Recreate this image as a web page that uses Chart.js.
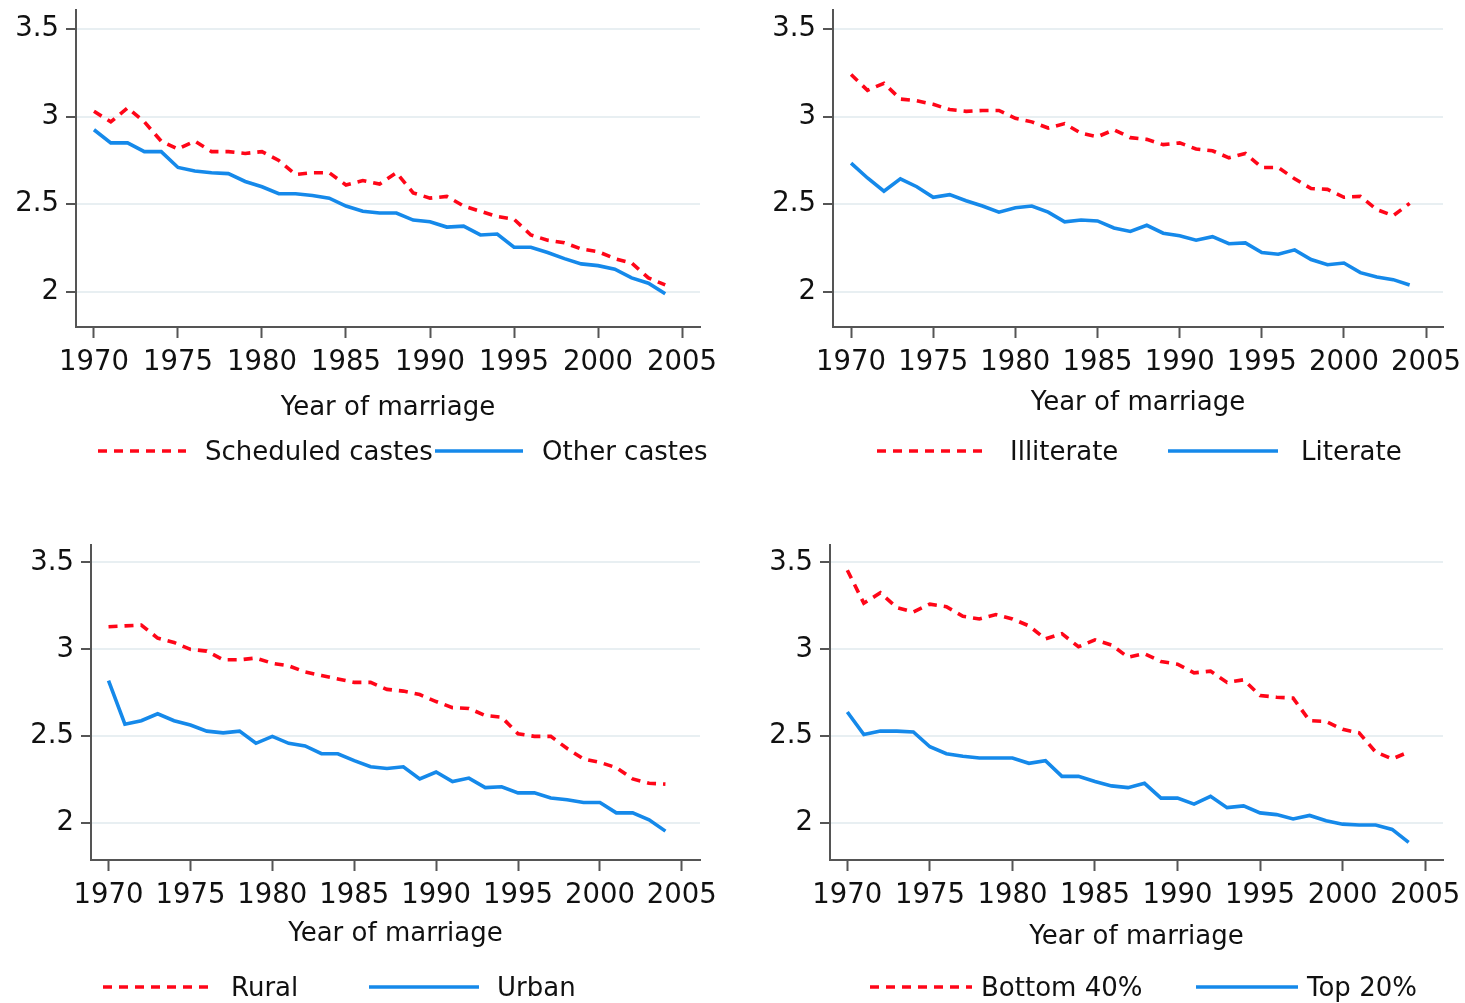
<!DOCTYPE html>
<html>
<head>
<meta charset="utf-8">
<script src="https://cdn.jsdelivr.net/npm/chart.js@4.4.1/dist/chart.umd.min.js"></script>
<style>
  body { margin: 0; background: #fff; }
  .panel { position: absolute; left: 0; top: 0; width: 1465px; height: 1003px; }
</style>
</head>
<body>
<div class="panel"><canvas id="chartCaste"></canvas></div>
<div class="panel"><canvas id="chartLiteracy"></canvas></div>
<div class="panel"><canvas id="chartLocation"></canvas></div>
<div class="panel"><canvas id="chartWealth"></canvas></div>
<script>
const years = [1970, 1971, 1972, 1973, 1974, 1975, 1976, 1977, 1978, 1979,
  1980, 1981, 1982, 1983, 1984, 1985, 1986, 1987, 1988, 1989,
  1990, 1991, 1992, 1993, 1994, 1995, 1996, 1997, 1998, 1999,
  2000, 2001, 2002, 2003, 2004]
const xTicks = [1970, 1975, 1980, 1985, 1990, 1995, 2000, 2005]
const yTicks = [2, 2.5, 3, 3.5]
const xTitle = 'Year of marriage'

const scheduledCastes = [3.03, 2.97, 3.05, 2.97, 2.86, 2.815, 2.86, 2.8, 2.8, 2.79,
  2.8, 2.75, 2.67, 2.68, 2.68, 2.61, 2.635, 2.615, 2.68, 2.565,
  2.535, 2.545, 2.49, 2.46, 2.43, 2.415, 2.325, 2.295, 2.28, 2.245,
  2.23, 2.19, 2.165, 2.08, 2.04]
const otherCastes = [2.925, 2.85, 2.85, 2.8, 2.8, 2.71, 2.69, 2.68, 2.675, 2.63,
  2.6, 2.56, 2.56, 2.55, 2.535, 2.49, 2.46, 2.45, 2.45, 2.41,
  2.4, 2.37, 2.375, 2.325, 2.33, 2.255, 2.255, 2.225, 2.19, 2.16,
  2.15, 2.13, 2.08, 2.05, 1.99]

const illiterate = [3.24, 3.15, 3.19, 3.1, 3.09, 3.07, 3.04, 3.03, 3.035, 3.035,
  2.99, 2.97, 2.935, 2.96, 2.905, 2.885, 2.925, 2.88, 2.87, 2.84,
  2.85, 2.815, 2.805, 2.765, 2.79, 2.71, 2.71, 2.645, 2.59, 2.585,
  2.54, 2.545, 2.47, 2.435, 2.505]
const literate = [2.735, 2.65, 2.575, 2.645, 2.6, 2.54, 2.555, 2.52, 2.49, 2.455,
  2.48, 2.49, 2.455, 2.4, 2.41, 2.405, 2.365, 2.345, 2.38, 2.335,
  2.32, 2.295, 2.315, 2.275, 2.28, 2.225, 2.215, 2.24, 2.185, 2.155,
  2.165, 2.11, 2.085, 2.07, 2.04]

const rural = [3.13, 3.135, 3.14, 3.065, 3.04, 3.0, 2.99, 2.94, 2.94, 2.95,
  2.92, 2.905, 2.87, 2.85, 2.83, 2.81, 2.81, 2.77, 2.76, 2.74,
  2.7, 2.665, 2.66, 2.62, 2.61, 2.515, 2.5, 2.5, 2.43, 2.37,
  2.35, 2.32, 2.255, 2.23, 2.225]
const urban = [2.82, 2.57, 2.59, 2.63, 2.59, 2.565, 2.53, 2.52, 2.53, 2.46,
  2.5, 2.46, 2.445, 2.4, 2.4, 2.36, 2.325, 2.315, 2.325, 2.255,
  2.295, 2.24, 2.26, 2.205, 2.21, 2.175, 2.175, 2.145, 2.135, 2.12,
  2.12, 2.06, 2.06, 2.02, 1.955]

const bottom40 = [3.455, 3.265, 3.325, 3.24, 3.215, 3.26, 3.245, 3.19, 3.175, 3.2,
  3.175, 3.135, 3.06, 3.09, 3.015, 3.055, 3.025, 2.955, 2.975, 2.93,
  2.915, 2.865, 2.875, 2.81, 2.825, 2.735, 2.725, 2.72, 2.59, 2.585,
  2.54, 2.52, 2.41, 2.37, 2.41]
const top20 = [2.64, 2.51, 2.53, 2.53, 2.525, 2.44, 2.4, 2.385, 2.375, 2.375,
  2.375, 2.345, 2.36, 2.27, 2.27, 2.24, 2.215, 2.205, 2.23, 2.145,
  2.145, 2.11, 2.155, 2.09, 2.1, 2.06, 2.05, 2.025, 2.045, 2.015,
  1.995, 1.99, 1.99, 1.965, 1.89]

const RED = '#ff0618'
const BLUE = '#1589ea'
const AXIS = '#555'
const GRID = '#e8eff2'
const FONT = '"DejaVu Sans", sans-serif'
const PAGE_W = 1465
const PAGE_H = 1003
const Y_AXIS_W = 70
const LINE_W = 3.6

// draws the two-column legend the way Stata lays it out
const stataLegend = {
  id: 'stataLegend',
  afterDraw(chart, args, opts) {
    const ctx = chart.ctx
    ctx.save()
    ctx.font = `26px ${FONT}`
    ctx.textBaseline = 'middle'
    chart.data.datasets.forEach((ds, i) => {
      const x = opts.left + i * opts.colWidth
      ctx.strokeStyle = ds.borderColor
      ctx.lineWidth = ds.borderWidth
      ctx.setLineDash(ds.borderDash || [])
      ctx.beginPath()
      ctx.moveTo(x, opts.y)
      ctx.lineTo(x + opts.sample, opts.y)
      ctx.stroke()
      ctx.setLineDash([])
      ctx.fillStyle = '#111'
      ctx.fillText(ds.label, x + opts.sample + opts.gap, opts.y + 2)
    })
    ctx.restore()
  },
}

// box = chart area in page pixels, xr/yr = axis ranges matching that box
function makePanel(id, p) {
  const titleBottom = p.titleY + 0.6 * 26
  return new Chart(document.getElementById(id), {
    type: 'line',
    data: {
      labels: years,
      datasets: [
        {
          label: p.names[0],
          data: p.series[0],
          borderColor: RED,
          borderWidth: LINE_W,
          borderDash: [9, 7],
          pointRadius: 0,
          tension: 0,
        },
        {
          label: p.names[1],
          data: p.series[1],
          borderColor: BLUE,
          borderWidth: LINE_W,
          pointRadius: 0,
          tension: 0,
        },
      ],
    },
    options: {
      responsive: true,
      maintainAspectRatio: false,
      animation: false,
      layout: {
        padding: {
          left: p.box.left - Y_AXIS_W,
          right: PAGE_W - p.box.right,
          top: p.box.top,
          bottom: PAGE_H - titleBottom,
        },
      },
      plugins: {
        legend: { display: false },
        tooltip: { enabled: false },
        stataLegend: p.legend,
      },
      scales: {
        x: {
          type: 'linear',
          min: p.xr[0],
          max: p.xr[1],
          afterBuildTicks: (s) => { s.ticks = xTicks.map((v) => ({ value: v })) },
          afterFit: (s) => {
            s.height = titleBottom - p.box.bottom
            s.paddingLeft = 0
            s.paddingRight = 0
          },
          ticks: {
            callback: (v) => String(v),
            font: { family: FONT, size: 27.5 },
            color: '#111',
            padding: 8,
            maxRotation: 0,
            autoSkip: false,
          },
          grid: {
            drawOnChartArea: false,
            drawTicks: true,
            tickLength: 11,
            tickColor: AXIS,
            tickWidth: 2,
          },
          border: { color: AXIS, width: 2 },
          title: {
            display: true,
            text: xTitle,
            font: { family: FONT, size: 26, lineHeight: 1.2 },
            color: '#111',
            padding: 0,
          },
        },
        y: {
          min: p.yr[0],
          max: p.yr[1],
          afterBuildTicks: (s) => { s.ticks = yTicks.map((v) => ({ value: v })) },
          afterFit: (s) => {
            s.width = Y_AXIS_W
            s.paddingTop = 0
            s.paddingBottom = 0
          },
          ticks: {
            callback: (v) => String(v),
            font: { family: FONT, size: 27.5 },
            color: '#111',
            padding: 7,
          },
          grid: {
            color: GRID,
            lineWidth: 2,
            drawTicks: true,
            tickLength: 10,
            tickColor: AXIS,
            tickWidth: 2,
          },
          border: { color: AXIS, width: 2 },
        },
      },
    },
    plugins: [stataLegend],
  })
}

makePanel('chartCaste', {
  names: ['Scheduled castes', 'Other castes'],
  series: [scheduledCastes, otherCastes],
  box: { left: 76, right: 700, top: 10, bottom: 327 },
  xr: [1968.93, 2006.07],
  yr: [1.8, 3.608],
  titleY: 408,
  legend: { left: 98, colWidth: 337, sample: 88, gap: 19, y: 451 },
})

makePanel('chartLiteracy', {
  names: ['Illiterate', 'Literate'],
  series: [illiterate, literate],
  box: { left: 833, right: 1443, top: 10, bottom: 327 },
  xr: [1968.9, 2006.03],
  yr: [1.8, 3.608],
  titleY: 403,
  legend: { left: 877, colWidth: 291, sample: 110, gap: 23, y: 451 },
})

makePanel('chartLocation', {
  names: ['Rural', 'Urban'],
  series: [rural, urban],
  box: { left: 91, right: 700, top: 545, bottom: 860 },
  xr: [1968.93, 2006.11],
  yr: [1.789, 3.6],
  titleY: 934,
  legend: { left: 103, colWidth: 266, sample: 110, gap: 18, y: 987 },
})

makePanel('chartWealth', {
  names: ['Bottom 40%', 'Top 20%'],
  series: [bottom40, top20],
  box: { left: 830, right: 1443, top: 545, bottom: 860 },
  xr: [1968.95, 2006.08],
  yr: [1.789, 3.6],
  titleY: 937,
  legend: { left: 870, colWidth: 326, sample: 102, gap: 9, y: 987 },
})
</script>
</body>
</html>
